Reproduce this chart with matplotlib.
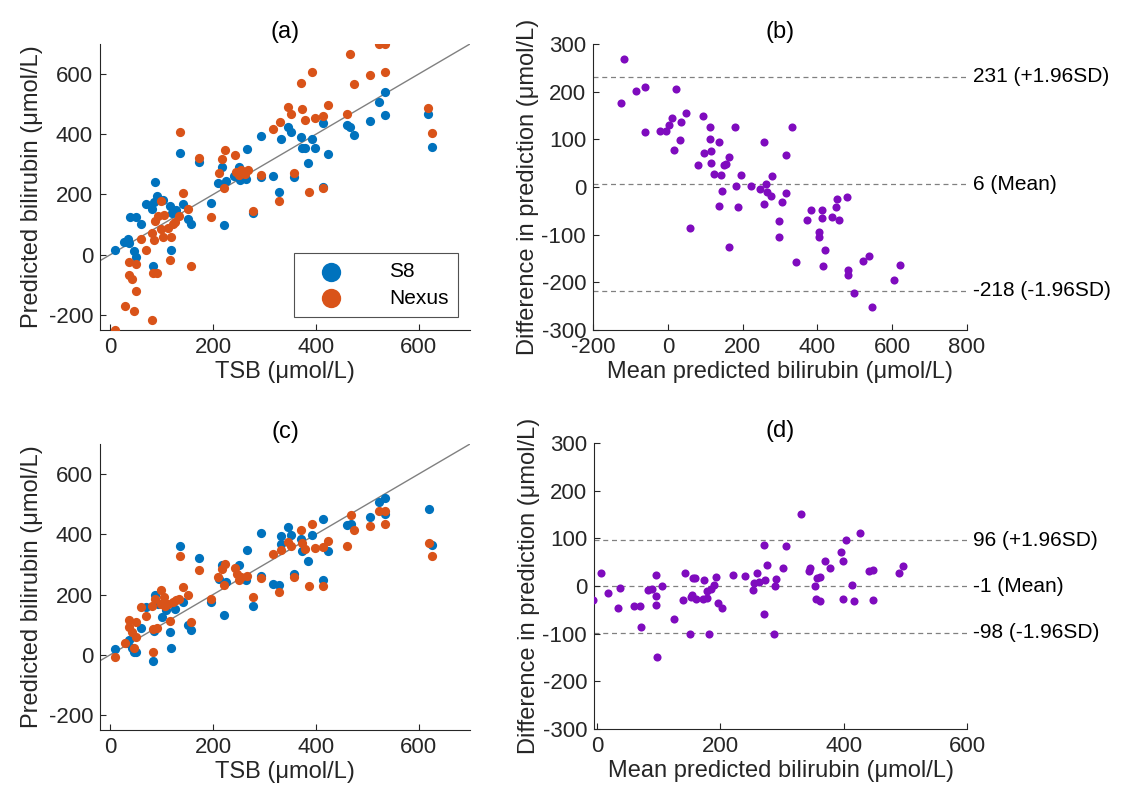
import numpy as np
import matplotlib
matplotlib.use('Agg')
import matplotlib.pyplot as plt
from matplotlib import transforms

plt.rcParams['font.family'] = ['Liberation Sans', 'DejaVu Sans']
plt.rcParams['axes.unicode_minus'] = False

# (a) uncalibrated predictions vs TSB
a_s8_tsb = [9, 26, 34, 37, 46, 50, 39, 50, 60, 69, 81, 86, 88, 91, 102, 117, 120, 127, 141, 151, 157,
            83, 118, 136, 172, 196, 209, 218, 222, 226, 241, 250, 252, 265, 267, 278, 293, 294, 317,
            328, 332, 345, 351, 358, 372, 373, 379, 385, 392, 399, 414, 414, 423, 460, 466, 475, 505,
            523, 535, 535, 619, 626]
a_s8_pred = [14, 42, 51, 39, 11, -6, 126, 126, 103, 167, 153, 176, 240, 196, 181, 162, 137, 148, 168, 120, 103,
             -39, 14, 339, 309, 172, 237, 290, 100, 244, 261, 290, 248, 253, 350, 139, 394, 259, 263,
             207, 384, 423, 409, 259, 390, 353, 353, 303, 384, 353, 437, 226, 333, 431, 423, 396, 444,
             506, 540, 464, 467, 357]
a_nx_tsb = [9, 29, 46, 81, 50, 36, 37, 42, 50, 60, 69, 81, 85, 83, 91, 88, 92, 98, 99, 102, 105, 113,
            118, 117, 122, 125, 133, 136, 141, 152, 157, 172, 196, 211, 218, 222, 224, 243, 245, 250,
            255, 263, 268, 278, 293, 317, 328, 331, 345, 351, 358, 372, 373, 379, 386, 393, 399, 414,
            414, 423, 461, 467, 475, 505, 523, 535, 535, 619, 626]
a_nx_pred = [-250, -169, -188, -216, -119, -24, -67, -82, -32, 53, 17, 72, 48, -61, -61, 111, 128, 179, 87, 59, 131, 90,
             59, -19, 101, 109, 128, 406, 206, 153, -37, 320, 126, 272, 319, 222, 348, 331, 276, 264,
             281, 268, 281, 146, 264, 418, 179, 442, 492, 468, 270, 570, 484, 448, 207, 606, 455, 461,
             220, 496, 468, 668, 567, 596, 700, 700, 607, 487, 403]

# (b) Bland-Altman of (a)
b_mean = [-118, -125, -86, -61, -60, 23, -22, -6, 4, 12, 35, 48, 33, 16, 58, 80, 93, 96, 113, 114, 116,
          116, 123, 138, 143, 150, 156, 163, 145, 138, 163, 179, 182, 188, 196, 222, 246, 257, 257, 262,
          264, 276, 278, 298, 298, 305, 316, 317, 333, 342, 372, 383, 404, 405, 411, 413, 420, 416, 438,
          449, 451, 458, 479, 483, 482, 497, 521, 537, 546, 604, 622]
b_diff = [269, 177, 201, 210, 115, 206, 118, 118, 130, 145, 137, 156, 98, 77, -86, 46, 149, 72, 125, 101, 75,
          51, 28, 95, 25, 46, 49, 63, -8, -39, -125, 126, 3, -41, 25, 1, -5, 95, -35, 7,
          -11, -19, 24, -72, -106, -31, -12, 67, 126, -157, -69, -49, -95, -105, -49, -65, -133, -166, -62,
          -42, -25, -70, -21, -174, -185, -222, -156, -145, -251, -196, -163]
b_limits = [231, 6, -218]

# (c) calibrated predictions vs TSB
c_s8_tsb = [9, 31, 37, 42, 47, 50, 60, 69, 83, 85, 88, 92, 101, 109, 117, 118, 125, 136, 141, 151, 157,
            172, 196, 211, 218, 222, 226, 250, 265, 267, 278, 293, 294, 317, 328, 332, 333, 345, 351,
            358, 372, 373, 385, 392, 414, 414, 423, 460, 468, 505, 523, 535, 535, 620, 627]
c_s8_pred = [19, 38, 49, 24, 10, 8, 89, 158, -22, 80, 200, 169, 124, 147, 74, 22, 152, 360, 174, 99, 83,
             320, 174, 252, 297, 132, 241, 297, 249, 349, 163, 406, 260, 236, 232, 367, 394, 424, 397,
             267, 386, 344, 313, 399, 452, 249, 344, 432, 433, 458, 506, 519, 467, 483, 363]
c_nx_tsb = [9, 29, 36, 37, 42, 46, 50, 50, 60, 69, 81, 83, 83, 88, 91, 98, 99, 104, 107, 113, 117, 122,
            128, 133, 136, 141, 152, 157, 172, 196, 209, 218, 222, 224, 243, 247, 250, 255, 267, 278,
            293, 317, 328, 333, 345, 351, 358, 372, 373, 379, 386, 393, 399, 414, 414, 423, 461, 468,
            475, 505, 523, 535, 535, 620, 627]
c_nx_pred = [-9, 38, 116, 91, 74, 24, 108, 58, 158, 130, 163, 8, 86, 186, 88, 216, 169, 191, 161, 169, 113, 174,
             182, 186, 328, 224, 200, 108, 282, 184, 258, 286, 232, 300, 288, 269, 249, 258, 263, 191,
             254, 336, 208, 349, 374, 360, 258, 413, 372, 352, 227, 433, 356, 358, 228, 379, 362, 463,
             413, 428, 478, 478, 433, 372, 328]

# (d) Bland-Altman of (c)
d_mean = [-6, 6, 18, 34, 37, 59, 70, 71, 83, 89, 95, 96, 95, 97, 106, 124, 139, 143, 150, 152, 154, 155,
          159, 161, 172, 173, 178, 178, 182, 185, 189, 192, 196, 202, 220, 240, 253, 255, 259, 262, 270,
          270, 272, 275, 287, 289, 290, 302, 307, 331, 344, 346, 354, 355, 356, 361, 361, 369, 378, 396,
          398, 398, 404, 413, 416, 426, 441, 448, 448, 490, 496]
d_diff = [-30, 27, -15, -47, -4, -41, -41, -87, -9, -6, 22, -21, -39, -148, -1, -69, -29, 27, -101, -24, -19, 16,
          16, -28, -28, 13, -26, -10, -101, -7, 1, 18, -35, -47, 23, 21, -8, 7, 27, 8, -59,
          87, 12, 45, -100, -1, 14, 38, 84, 152, 31, 38, 0, -27, 17, -31, 19, 52, 37, 71,
          52, -28, 96, 1, -31, 112, 31, 33, -30, 28, 41]
d_limits = [96, -1, -98]

limit_names = ['(+1.96SD)', '(Mean)', '(-1.96SD)']

blue = '#0072BD'
orange = '#D95319'
purple = '#7F0BBE'
axcol = '#262626'
fs = 16

fig = plt.figure(figsize=(11.3, 7.98), dpi=100)
ax_a = fig.add_axes([0.0885, 0.5865, 0.3274, 0.3584])
ax_b = fig.add_axes([0.5248, 0.5865, 0.3310, 0.3584])
ax_c = fig.add_axes([0.0885, 0.0852, 0.3274, 0.3584])
ax_d = fig.add_axes([0.5257, 0.0865, 0.3301, 0.3584])


def style(ax):
    for s in ['top', 'right']:
        ax.spines[s].set_visible(False)
    for s in ['left', 'bottom']:
        ax.spines[s].set_color(axcol)
        ax.spines[s].set_linewidth(0.8)
    ax.tick_params(direction='in', length=4, width=0.8, colors=axcol, labelsize=fs, pad=5)


def scatter_panel(ax, tsb1, pred1, tsb2, pred2, title):
    ax.plot([-20, 700], [-20, 700], color='#808080', lw=1, zorder=1)
    ax.scatter(tsb1, pred1, s=44, color=blue, lw=0, label='S8', zorder=2)
    ax.scatter(tsb2, pred2, s=44, color=orange, lw=0, label='Nexus', zorder=3)
    ax.set_xlim(-20, 700)
    ax.set_ylim(-250, 700)
    ax.set_xticks([0, 200, 400, 600])
    ax.set_yticks([-200, 0, 200, 400, 600])
    ax.set_xlabel('TSB (μmol/L)', fontsize=fs + 1, color=axcol, labelpad=2)
    ax.set_ylabel('Predicted bilirubin (μmol/L)', fontsize=fs + 1, color=axcol, labelpad=4)
    ax.set_title(title, fontsize=fs + 1, color='k', pad=4)
    style(ax)


def ba_panel(ax, mean, diff, limits, xlim, xticks, title):
    ax.scatter(mean, diff, s=34, color=purple, lw=0, zorder=3)
    trans = transforms.blended_transform_factory(ax.transAxes, ax.transData)
    for v, name in zip(limits, limit_names):
        ax.axhline(v, color='#808080', lw=0.9, ls=(0, (4, 3)), zorder=1)
        ax.text(1.015, v, f'{v} {name}', transform=trans, va='center', ha='left',
                fontsize=fs - 1, color='k')
    ax.set_xlim(*xlim)
    ax.set_ylim(-300, 300)
    ax.set_xticks(xticks)
    ax.set_yticks(range(-300, 301, 100))
    ax.set_xlabel('Mean predicted bilirubin (μmol/L)', fontsize=fs + 1, color=axcol, labelpad=2)
    ax.set_ylabel('Difference in prediction (μmol/L)', fontsize=fs + 1, color=axcol, labelpad=2)
    ax.set_title(title, fontsize=fs + 1, color='k', pad=4)
    style(ax)


scatter_panel(ax_a, a_s8_tsb, a_s8_pred, a_nx_tsb, a_nx_pred, '(a)')
ba_panel(ax_b, b_mean, b_diff, b_limits, (-200, 800), range(-200, 801, 200), '(b)')
scatter_panel(ax_c, c_s8_tsb, c_s8_pred, c_nx_tsb, c_nx_pred, '(c)')
ba_panel(ax_d, d_mean, d_diff, d_limits, (-5, 600), [0, 200, 400, 600], '(d)')

leg = ax_a.legend(loc='lower right', bbox_to_anchor=(0.968, 0.045), fontsize=fs - 1,
                  markerscale=2.1, frameon=True, fancybox=False, handletextpad=1.5,
                  borderpad=0.45, labelspacing=0.35, borderaxespad=0, handlelength=2.6)
leg.get_frame().set_edgecolor(axcol)
leg.get_frame().set_linewidth(0.8)

fig.savefig('out.png', dpi=100, facecolor='white')
